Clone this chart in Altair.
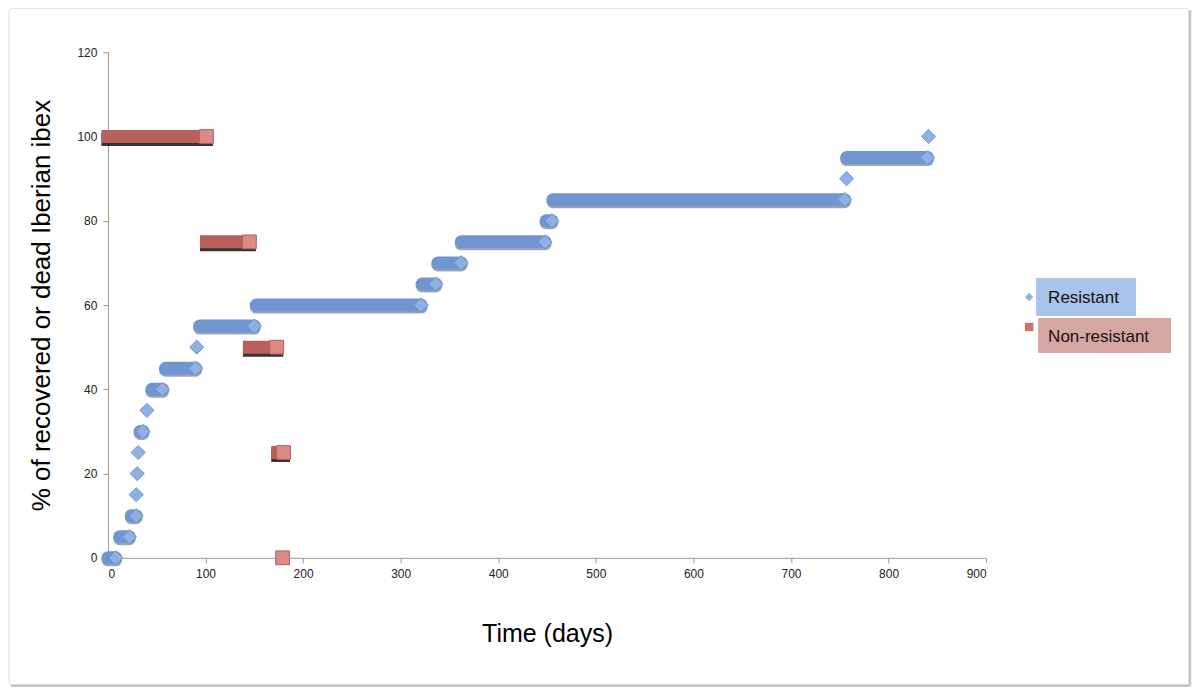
import altair as alt
import pandas as pd

# Resistant ibex: step segments (start day, end day, % value)
res_start = [0, 12, 24, 29, 30, 31, 33, 40, 45, 59, 91, 94, 152, 322, 338, 362, 449, 456, 757, 757, 841]
res_end   = [8, 22, 29, 29, 30, 31, 36, 40, 56, 90, 91, 150, 321, 336, 362, 448, 455, 755, 757, 840, 841]
res_y     = [0, 5, 10, 15, 20, 25, 30, 35, 40, 45, 50, 55, 60, 65, 70, 75, 80, 85, 90, 95, 100]

# Non-resistant ibex
nr_start = [0, 101, 145, 174, 179]
nr_end   = [101, 145, 173, 180, 179]
nr_y     = [100, 75, 50, 25, 0]

x_ticks = [0, 100, 200, 300, 400, 500, 600, 700, 800, 900]
y_ticks = [0, 20, 40, 60, 80, 100, 120]

res = pd.DataFrame({"x0": res_start, "x1": res_end, "y": res_y})
nr = pd.DataFrame({"x0": nr_start, "x1": nr_end, "y": nr_y})

BLUE = "#6f96d1"
BLUE_L = "#8fb0e0"
RED = "#b8605c"
RED_L = "#dc8a86"

xs = alt.Scale(domain=[0, 900], nice=False, zero=False)
ys = alt.Scale(domain=[0, 120], nice=False)

xax = alt.Axis(values=x_ticks, title="Time (days)", grid=False, domainColor="#999999",
               tickColor="#999999", tickSize=5, labelFontSize=12, labelColor="#222222",
               titleFontSize=25, titleFontWeight="normal", titlePadding=42, labelPadding=6)
yax = alt.Axis(values=y_ticks, title="% of recovered or dead Iberian ibex", grid=False,
               domainColor="#999999", tickColor="#999999", tickSize=5, labelFontSize=12,
               labelColor="#222222", titleFontSize=26, titleFontWeight="normal",
               titlePadding=22, labelPadding=6)

base_res = alt.Chart(res)
base_nr = alt.Chart(nr)

res_shadow = base_res.transform_filter("datum.x1 > datum.x0").mark_rule(
    strokeWidth=13, strokeCap="round", color="#2a3550", opacity=0.45, yOffset=2
).encode(x=alt.X("x0:Q", scale=xs, axis=xax), x2="x1:Q", y=alt.Y("y:Q", scale=ys, axis=yax))

res_bar = base_res.transform_filter("datum.x1 > datum.x0").mark_rule(
    strokeWidth=13, strokeCap="round", color=BLUE
).encode(x=alt.X("x0:Q", scale=xs), x2="x1:Q", y=alt.Y("y:Q", scale=ys))

res_pt = base_res.mark_point(shape="diamond", filled=True, size=200, color=BLUE_L, opacity=1,
                             stroke=BLUE, strokeWidth=1).encode(
    x=alt.X("x1:Q", scale=xs), y=alt.Y("y:Q", scale=ys))

nr_shadow = base_nr.transform_filter("datum.x1 > datum.x0").mark_rule(
    strokeWidth=13, strokeCap="square", color="#111111", opacity=0.85, yOffset=3
).encode(x=alt.X("x0:Q", scale=xs), x2="x1:Q", y=alt.Y("y:Q", scale=ys))

nr_bar = base_nr.transform_filter("datum.x1 > datum.x0").mark_rule(
    strokeWidth=13, strokeCap="square", color=RED
).encode(x=alt.X("x0:Q", scale=xs), x2="x1:Q", y=alt.Y("y:Q", scale=ys))

nr_pt = base_nr.mark_point(shape="square", filled=True, size=190, color=RED_L, opacity=1,
                           stroke=RED, strokeWidth=1).encode(
    x=alt.X("x1:Q", scale=xs), y=alt.Y("y:Q", scale=ys))

# Legend drawn as boxes beside the plot
leg = pd.DataFrame({"label": ["Resistant", "Non-resistant"]})
leg_r = alt.Chart(leg).transform_filter("datum.label == 'Resistant'")
leg_n = alt.Chart(leg).transform_filter("datum.label == 'Non-resistant'")

frame = leg_r.mark_rect(fill="transparent", stroke="#dddddd", strokeWidth=1, clip=False,
                        cornerRadius=3).encode(
    x=alt.value(-99), x2=alt.value(1082), y=alt.value(-44), y2=alt.value(633))
frame_shadow = leg_r.mark_rule(color="#c4c4c4", strokeWidth=2.5, clip=False).encode(
    x=alt.value(-97), x2=alt.value(1083), y=alt.value(634))
frame_shadow_r = leg_r.mark_rule(color="#c4c4c4", strokeWidth=2.5, clip=False).encode(
    x=alt.value(1083), y=alt.value(-42), y2=alt.value(634))

legend_layers = [
    leg_r.mark_rect(color="#a9c3ea").encode(x=alt.value(929), x2=alt.value(1029), y=alt.value(226), y2=alt.value(264)),
    leg_n.mark_rect(color="#d6a6a3").encode(x=alt.value(931), x2=alt.value(1064), y=alt.value(266), y2=alt.value(301)),
    leg_r.mark_point(shape="diamond", filled=True, size=70, color=BLUE_L, opacity=1).encode(x=alt.value(922), y=alt.value(245)),
    leg_n.mark_point(shape="square", filled=True, size=70, color="#d0706c", opacity=1).encode(x=alt.value(922), y=alt.value(275)),
    leg_r.mark_text(align="left", baseline="middle", fontSize=17, color="#111111", font="Liberation Sans").encode(
        x=alt.value(941), y=alt.value(246), text="label:N"),
    leg_n.mark_text(align="left", baseline="middle", fontSize=17, color="#111111", font="Liberation Sans").encode(
        x=alt.value(941), y=alt.value(285), text="label:N"),
]

chart = alt.layer(frame, frame_shadow, frame_shadow_r, res_shadow, res_bar, res_pt, nr_shadow, nr_bar, nr_pt,
                  *legend_layers).properties(
    width=879, height=506,
    autosize=alt.AutoSizeParams(type="none"),
    padding={"left": 100, "top": 44, "right": 206, "bottom": 130},
).configure(font="Liberation Sans").configure_view(stroke="transparent", strokeWidth=0)

chart.save("out.html", embed_options={"renderer": "svg", "actions": False})
